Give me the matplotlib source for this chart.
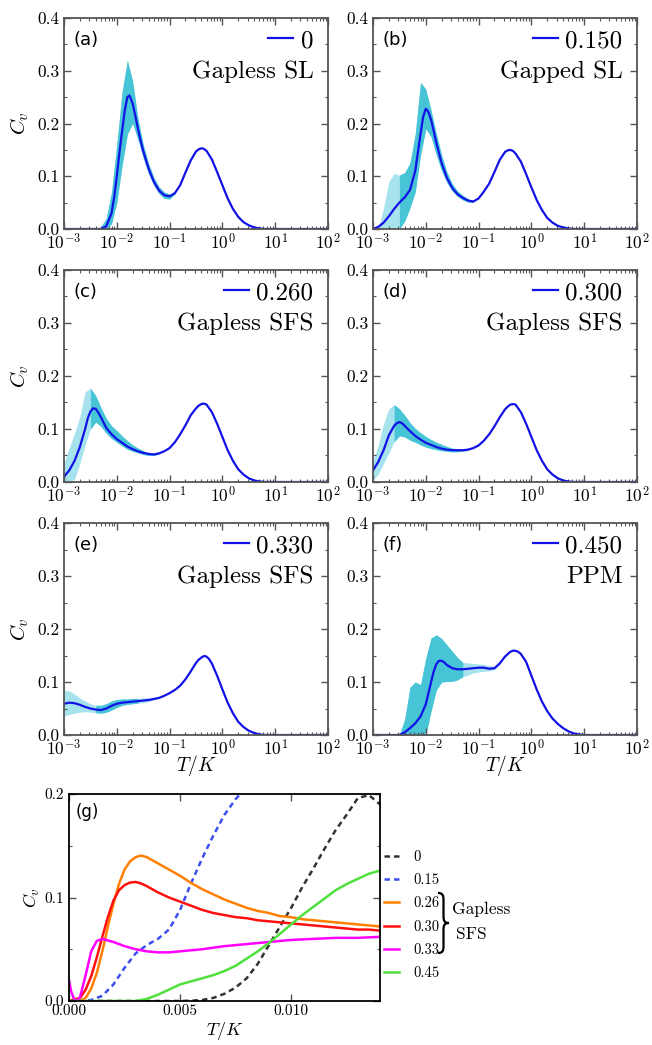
import numpy as np
import matplotlib
matplotlib.use("Agg")
import matplotlib.pyplot as plt
from matplotlib.ticker import FormatStrFormatter, MultipleLocator, LogLocator, NullFormatter
from matplotlib.path import Path
from matplotlib.patches import PathPatch

plt.rcParams['font.family'] = 'serif'
plt.rcParams['font.serif'] = ['cmr10']
plt.rcParams['mathtext.fontset'] = 'cm'
plt.rcParams['axes.formatter.use_mathtext'] = True
plt.rcParams['axes.unicode_minus'] = False

# log10(T/K) grid for the specific-heat curves (-3.0 ... 1.0 in steps of 0.1, then 2.0)
log_t = list(np.round(np.linspace(-3.0, 1.0, 41), 1)) + [2.0]

cv_a = [0, 0, 0, 0, 0, 0, 0, 0, 0.005, 0.03,
        0.1, 0.185, 0.25, 0.238, 0.19, 0.148, 0.115, 0.09, 0.073, 0.064,
        0.062, 0.068, 0.083, 0.107, 0.13, 0.147, 0.153, 0.148, 0.132, 0.108,
        0.083, 0.058, 0.038, 0.023, 0.013, 0.007, 0.003, 0.001, 0, 0, 0, 0]
cv_b = [0, 0.004, 0.012, 0.024, 0.038, 0.05, 0.06, 0.074, 0.11, 0.18,
        0.228, 0.207, 0.163, 0.125, 0.097, 0.078, 0.066, 0.059, 0.054, 0.052,
        0.058, 0.071, 0.086, 0.108, 0.131, 0.146, 0.150, 0.143, 0.128, 0.104,
        0.079, 0.055, 0.036, 0.021, 0.012, 0.006, 0.003, 0.001, 0, 0, 0, 0]
cv_c = [0.01, 0.022, 0.04, 0.066, 0.1, 0.133, 0.138, 0.122, 0.102, 0.09,
        0.081, 0.074, 0.067, 0.062, 0.058, 0.055, 0.053, 0.052, 0.054, 0.058,
        0.064, 0.075, 0.09, 0.107, 0.126, 0.139, 0.147, 0.146, 0.132, 0.11,
        0.085, 0.06, 0.04, 0.024, 0.014, 0.007, 0.003, 0.001, 0, 0, 0, 0]
cv_d = [0.022, 0.038, 0.06, 0.088, 0.106, 0.113, 0.106, 0.096, 0.087, 0.08,
        0.074, 0.07, 0.066, 0.063, 0.061, 0.06, 0.06, 0.06, 0.061, 0.064,
        0.069, 0.078, 0.09, 0.105, 0.122, 0.137, 0.146, 0.146, 0.132, 0.11,
        0.085, 0.06, 0.04, 0.024, 0.014, 0.007, 0.003, 0.001, 0, 0, 0, 0]
cv_e = [0.059, 0.061, 0.06, 0.057, 0.053, 0.05, 0.048, 0.047, 0.05, 0.055,
        0.059, 0.061, 0.062, 0.063, 0.064, 0.065, 0.066, 0.068, 0.07, 0.074,
        0.079, 0.085, 0.093, 0.105, 0.12, 0.136, 0.146, 0.148, 0.135, 0.112,
        0.086, 0.061, 0.041, 0.025, 0.015, 0.008, 0.004, 0.001, 0, 0, 0, 0]
cv_f = [0, 0, 0, 0, 0, 0, 0.005, 0.013, 0.022, 0.035,
        0.058, 0.1, 0.134, 0.14, 0.132, 0.126, 0.124, 0.124, 0.125, 0.126,
        0.127, 0.127, 0.125, 0.126, 0.135, 0.148, 0.157, 0.159, 0.153, 0.138,
        0.112, 0.086, 0.063, 0.045, 0.031, 0.021, 0.013, 0.007, 0.003, 0.001, 0, 0]

# extra samples around the peaks (log10 T, C_v)
peak_t_a = [-2.05, -1.95, -1.85, -1.76, -1.65, -1.55, -0.45, -0.35]
peak_cv_a = [0.06, 0.145, 0.224, 0.253, 0.215, 0.168, 0.151, 0.152]
peak_t_b = [-2.15, -2.05, -1.95, -1.85, -0.45, -0.35]
peak_cv_b = [0.145, 0.213, 0.222, 0.186, 0.149, 0.148]
peak_t_c = [-2.55, -2.45, -2.35, -0.45, -0.35]
peak_cv_c = [0.12, 0.139, 0.131, 0.144, 0.148]
peak_t_d = [-2.55, -2.45, -0.45, -0.35]
peak_cv_d = [0.111, 0.111, 0.142, 0.147]
peak_t_e = [-0.45, -0.35, -0.25]
peak_cv_e = [0.142, 0.149, 0.143]
peak_t_f = [-1.85, -1.75, -1.65, -0.35, -0.25]
peak_cv_f = [0.12, 0.14, 0.137, 0.159, 0.157]

# spread of the estimate (lower / upper), on its own log10(T) grid
band_t_a = np.round(np.linspace(-2.3, -0.9, 15), 1)
lo_a = [0, 0, 0.01, 0.05, 0.12, 0.18, 0.2, 0.17, 0.135, 0.105, 0.083, 0.067, 0.058, 0.057, 0.066]
hi_a = [0.005, 0.02, 0.07, 0.16, 0.26, 0.32, 0.28, 0.21, 0.16, 0.125, 0.098, 0.08, 0.07, 0.066, 0.07]

band_t_b = np.round(np.linspace(-2.9, -1.1, 19), 1)
lo_b = [0, 0, 0, 0, 0, 0.015, 0.04, 0.07, 0.14, 0.19, 0.175, 0.14, 0.11, 0.088, 0.072, 0.062, 0.055, 0.051, 0.05]
hi_b = [0, 0.04, 0.09, 0.105, 0.102, 0.107, 0.125, 0.18, 0.278, 0.265, 0.225, 0.18, 0.14, 0.108, 0.086, 0.072, 0.064, 0.057, 0.054]

band_t_c = np.round(np.linspace(-3.0, -1.2, 19), 1)
lo_c = [0, 0, 0.005, 0.035, 0.07, 0.1, 0.113, 0.105, 0.092, 0.082, 0.075, 0.068, 0.062, 0.058, 0.055, 0.052, 0.05, 0.05, 0.053]
hi_c = [0.035, 0.065, 0.092, 0.123, 0.17, 0.177, 0.163, 0.14, 0.12, 0.106, 0.097, 0.087, 0.078, 0.07, 0.064, 0.059, 0.055, 0.053, 0.055]

band_t_d = np.round(np.linspace(-3.0, -1.2, 19), 1)
lo_d = [0.004, 0.015, 0.035, 0.055, 0.076, 0.087, 0.085, 0.079, 0.075, 0.07, 0.066, 0.063, 0.061, 0.059, 0.058, 0.057, 0.057, 0.058, 0.06]
hi_d = [0.04, 0.07, 0.11, 0.138, 0.146, 0.138, 0.126, 0.112, 0.101, 0.093, 0.086, 0.08, 0.075, 0.071, 0.067, 0.064, 0.062, 0.061, 0.062]

band_t_e = np.round(np.linspace(-3.0, -1.2, 19), 1)
lo_e = [0.035, 0.039, 0.041, 0.043, 0.044, 0.043, 0.042, 0.041, 0.043, 0.047, 0.052, 0.056, 0.058, 0.059, 0.06, 0.061, 0.063, 0.066, 0.069]
hi_e = [0.085, 0.083, 0.077, 0.07, 0.064, 0.059, 0.056, 0.056, 0.059, 0.064, 0.067, 0.068, 0.068, 0.069, 0.069, 0.07, 0.07, 0.07, 0.071]

band_t_f = np.round(np.linspace(-2.5, -0.6, 20), 1)
lo_f = [0, 0, 0, 0, 0, 0, 0.045, 0.085, 0.1, 0.101, 0.101, 0.104, 0.11, 0.113, 0.117, 0.119, 0.12, 0.121, 0.123, 0.133]
hi_f = [0, 0.03, 0.09, 0.1, 0.095, 0.145, 0.183, 0.189, 0.182, 0.17, 0.158, 0.146, 0.137, 0.136, 0.135, 0.134, 0.133, 0.131, 0.129, 0.137]

couplings = ['0', '0.150', '0.260', '0.300', '0.330', '0.450']
phases = ['Gapless SL', 'Gapped SL', 'Gapless SFS', 'Gapless SFS', 'Gapless SFS', 'PPM']
tags = ['(a)', '(b)', '(c)', '(d)', '(e)', '(f)']

# low-temperature zoom, linear T
t_g = np.round(np.linspace(0, 0.014, 29), 4)
t_fine = [0, 0.0005, 0.00075, 0.001, 0.00125, 0.0015, 0.00175, 0.002, 0.00225, 0.0025,
          0.00275, 0.003, 0.00325, 0.0035, 0.00375, 0.004, 0.0045, 0.005, 0.0055, 0.006,
          0.0065, 0.007, 0.0075, 0.008, 0.0085, 0.009, 0.0095, 0.010, 0.0105, 0.011,
          0.0115, 0.012, 0.0125, 0.013, 0.0135, 0.014]
cv_g_000 = [0, 0, 0, 0, 0, 0, 0, 0, 0, 0, 0, 0.0003, 0.001, 0.003, 0.007, 0.013, 0.022, 0.036,
            0.054, 0.072, 0.09, 0.11, 0.128, 0.147, 0.165, 0.18, 0.196, 0.199, 0.19]
cv_g_015 = [0, 0, 0.001, 0.005, 0.016, 0.032, 0.046, 0.054, 0.06, 0.069, 0.088, 0.114, 0.138,
            0.16, 0.18, 0.195, 0.207, 0.218]
cv_g_026 = [0, 0, 0.003, 0.012, 0.027, 0.048, 0.072, 0.094, 0.113, 0.127,
            0.135, 0.139, 0.1405, 0.139, 0.136, 0.133, 0.127, 0.121, 0.114, 0.108,
            0.103, 0.098, 0.094, 0.09, 0.087, 0.085, 0.082, 0.081, 0.079, 0.078,
            0.077, 0.076, 0.075, 0.074, 0.073, 0.072]
cv_g_030 = [0, 0.003, 0.011, 0.024, 0.042, 0.062, 0.081, 0.097, 0.107, 0.112,
            0.1145, 0.115, 0.1135, 0.111, 0.108, 0.105, 0.1, 0.096, 0.092, 0.088,
            0.085, 0.083, 0.081, 0.08, 0.078, 0.077, 0.076, 0.075, 0.074, 0.073,
            0.072, 0.071, 0.07, 0.069, 0.069, 0.068]
t_g_033 = [0, 0.0001, 0.00025, 0.0004, 0.0005, 0.00075, 0.001, 0.00125, 0.0015, 0.002, 0.0025,
           0.003, 0.0035, 0.004, 0.0045, 0.005, 0.006, 0.007, 0.008, 0.009, 0.010, 0.011,
           0.012, 0.013, 0.014]
cv_g_033 = [0.02, 0.009, 0.0005, 0.001, 0.004, 0.025, 0.048, 0.058, 0.06, 0.057, 0.053, 0.05,
            0.048, 0.047, 0.047, 0.048, 0.05, 0.053, 0.055, 0.057, 0.059, 0.06, 0.061, 0.061, 0.062]
cv_g_045 = [0, 0, 0, 0, 0, 0, 0, 0.002, 0.006, 0.011, 0.016, 0.019, 0.022, 0.025, 0.029,
            0.034, 0.041, 0.048, 0.056, 0.065, 0.074, 0.083, 0.091, 0.099, 0.107, 0.113,
            0.118, 0.123, 0.126]
g_labels = ['0', '0.15', '0.26', '0.30', '0.33', '0.45']

W, H = 652, 1045
fig = plt.figure(figsize=(W / 100, H / 100), dpi=100)


def add_axes_px(left, top, right, bottom):
    return fig.add_axes([left / W, 1 - bottom / H, (right - left) / W, (bottom - top) / H])


def style_frame(ax, size):
    for s in ax.spines.values():
        s.set_color('#555555')
        s.set_linewidth(1.3)
    ax.tick_params(which='both', direction='in', top=True, right=True,
                   colors='#555555', labelcolor='black', labelsize=size)
    ax.tick_params(which='major', length=5, width=1)
    ax.tick_params(which='minor', length=2.5, width=0.8)
    ax.tick_params(axis='x', which='major', pad=2.5)


def merged(base_t, base_cv, extra_t, extra_cv):
    t = np.concatenate([base_t, extra_t])
    cv = np.concatenate([base_cv, extra_cv])
    order = np.argsort(t)
    return t[order], cv[order]


boxes = [(64, 18, 328, 229), (373, 18, 637, 229),
         (64, 270, 328, 482), (373, 270, 637, 482),
         (64, 523, 328, 735), (373, 523, 637, 735)]
curves = [cv_a, cv_b, cv_c, cv_d, cv_e, cv_f]
peaks = [(peak_t_a, peak_cv_a), (peak_t_b, peak_cv_b), (peak_t_c, peak_cv_c),
         (peak_t_d, peak_cv_d), (peak_t_e, peak_cv_e), (peak_t_f, peak_cv_f)]
bands = [(band_t_a, lo_a, hi_a), (band_t_b, lo_b, hi_b), (band_t_c, lo_c, hi_c),
         (band_t_d, lo_d, hi_d), (band_t_e, lo_e, hi_e), (band_t_f, lo_f, hi_f)]
dark_spans = [(-2.3, -0.9), (-2.5, -1.1), (-2.55, -1.2), (-2.6, -1.2), (-2.4, -1.6), (-2.5, -1.3)]

light_cyan = '#a6e3ed'
dark_cyan = '#48c4d7'
line_blue = '#1212e6'

for i in range(6):
    ax = add_axes_px(*boxes[i])
    bt, lo, hi = bands[i]
    xb = 10 ** np.array(bt)
    ax.fill_between(xb, lo, hi, color=light_cyan, lw=0)
    d0, d1 = dark_spans[i]
    mask = (bt >= d0 - 1e-9) & (bt <= d1 + 1e-9)
    ax.fill_between(xb, lo, hi, where=mask, color=dark_cyan, lw=0)
    lt, cv = merged(log_t, curves[i], *peaks[i])
    ax.plot(10 ** lt, cv, color=line_blue, lw=1.6, label=couplings[i])

    ax.set_xscale('log')
    ax.set_xlim(1e-3, 1e2)
    ax.set_ylim(0, 0.4)
    ax.xaxis.set_major_locator(LogLocator(base=10, numticks=10))
    ax.xaxis.set_minor_locator(LogLocator(base=10, subs=np.arange(2, 10), numticks=20))
    ax.xaxis.set_minor_formatter(NullFormatter())
    ax.yaxis.set_major_locator(MultipleLocator(0.1))
    ax.yaxis.set_minor_locator(MultipleLocator(0.05))
    ax.yaxis.set_major_formatter(FormatStrFormatter('%.1f'))
    style_frame(ax, 12.5)

    ax.legend(loc='upper right', bbox_to_anchor=(0.945, 0.945), frameon=False,
              fontsize=18, handlelength=1.0, handletextpad=0.3,
              borderpad=0, borderaxespad=0)
    ax.text(0.945, 0.745, phases[i], transform=ax.transAxes, ha='right', va='center',
            fontsize=18)
    ax.text(0.035, 0.895, tags[i], transform=ax.transAxes, ha='left', va='center',
            fontsize=13, family='DejaVu Sans')
    if i % 2 == 0:
        ax.set_ylabel(r'$C_v$', fontsize=15, labelpad=4)
    if i >= 4:
        ax.set_xlabel(r'$T/K$', fontsize=14, labelpad=-4)

# (g) low-temperature comparison
axg = add_axes_px(69, 794, 380, 1001)
lines = []
lines += axg.plot(t_g, cv_g_000, color='#333333', lw=1.8, ls=(0, (2.2, 1.6)))
lines += axg.plot(t_g[:len(cv_g_015)], cv_g_015, color='#3d4ff0', lw=1.8, ls=(0, (2.2, 1.6)))
lines += axg.plot(t_fine, cv_g_026, color='#ff8000', lw=1.8)
lines += axg.plot(t_fine, cv_g_030, color='#ff1010', lw=1.8)
lines += axg.plot(t_g_033, cv_g_033, color='#ff00ff', lw=1.8)
lines += axg.plot(t_g, cv_g_045, color='#4fe03c', lw=1.8)
axg.set_xlim(0, 0.014)
axg.set_ylim(0, 0.2)
axg.xaxis.set_major_locator(MultipleLocator(0.005))
axg.xaxis.set_major_formatter(FormatStrFormatter('%.3f'))
axg.yaxis.set_major_locator(MultipleLocator(0.1))
axg.yaxis.set_minor_locator(MultipleLocator(0.05))
axg.yaxis.set_major_formatter(FormatStrFormatter('%.1f'))
style_frame(axg, 11)
for s in axg.spines.values():
    s.set_color('black')
axg.set_ylabel(r'$C_v$', fontsize=13, labelpad=2)
axg.set_xlabel(r'$T/K$', fontsize=13, labelpad=1)
axg.text(0.02, 0.913, '(g)', transform=axg.transAxes, ha='left', va='center',
         fontsize=12, family='DejaVu Sans')

fig.legend(lines, g_labels, loc='upper left', bbox_to_anchor=(384 / W, 1 - 850 / H),
           frameon=False, fontsize=10.5, handlelength=1.0, handletextpad=1.0,
           labelspacing=0.66, borderpad=0, borderaxespad=0)

# curly brace grouping the gapless SFS entries
bx0, bx1, btop, bbot = 438.0, 449.0, 893.0, 953.0
bmid = (btop + bbot) / 2
bxm = (bx0 + bx1) / 2
pts = [(bx0, btop), (bxm - 1, btop), (bxm, btop + 2), (bxm, btop + 7),
       (bxm, bmid - 7),
       (bxm, bmid - 2), (bxm + 1, bmid), (bx1, bmid),
       (bxm + 1, bmid), (bxm, bmid + 2), (bxm, bmid + 7),
       (bxm, bbot - 7),
       (bxm, bbot - 2), (bxm - 1, bbot), (bx0, bbot)]
codes = [Path.MOVETO, Path.CURVE4, Path.CURVE4, Path.CURVE4, Path.LINETO,
         Path.CURVE4, Path.CURVE4, Path.CURVE4, Path.CURVE4, Path.CURVE4, Path.CURVE4,
         Path.LINETO, Path.CURVE4, Path.CURVE4, Path.CURVE4]
brace = Path([(x / W, 1 - y / H) for x, y in pts], codes)
fig.add_artist(PathPatch(brace, transform=fig.transFigure, fill=False, lw=1.6, color='black'))
fig.text(452 / W, 1 - 909 / H, 'Gapless', ha='left', va='center', fontsize=12.5)
fig.text(456 / W, 1 - 934 / H, 'SFS', ha='left', va='center', fontsize=12.5)

fig.savefig('out.png', dpi=100)
